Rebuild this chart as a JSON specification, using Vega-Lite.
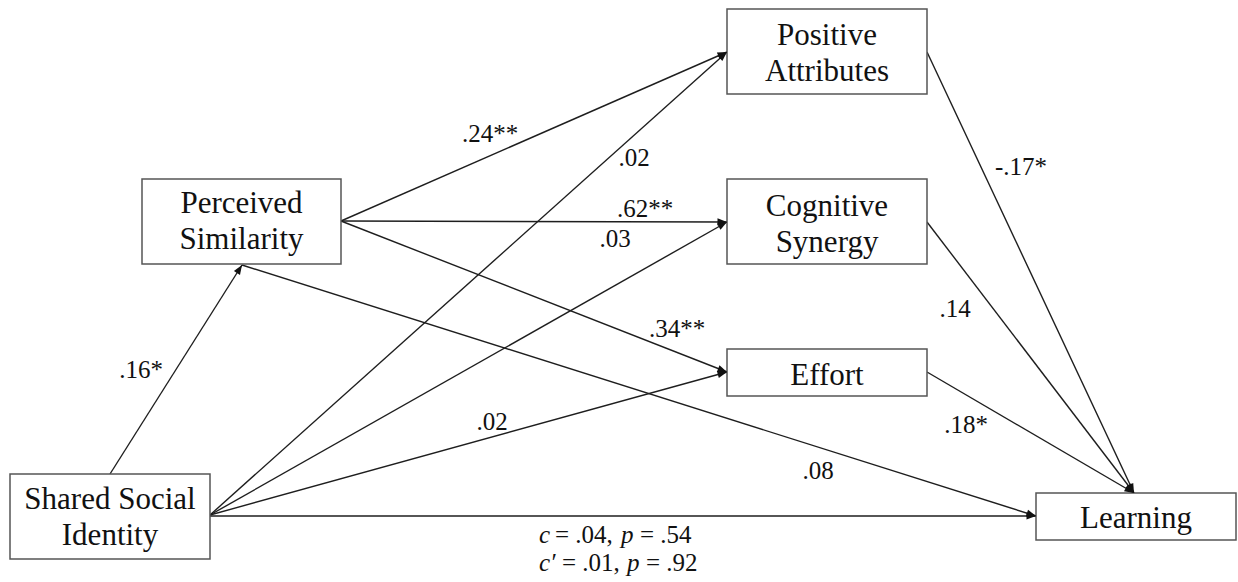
{
  "$schema": "https://vega.github.io/schema/vega-lite/v6.json",
  "width": 1238,
  "height": 582,
  "autosize": {"type": "fit", "contains": "padding"},
  "padding": 0,
  "background": "white",
  "config": {"view": {"stroke": null}},
  "datasets": {
    "edges": [
      {"from": "Shared Social Identity", "to": "Perceived Similarity", "x1": 110, "y1": 474, "x2": 242, "y2": 265},
      {"from": "Perceived Similarity", "to": "Positive Attributes", "x1": 341, "y1": 221, "x2": 727, "y2": 52},
      {"from": "Perceived Similarity", "to": "Cognitive Synergy", "x1": 341, "y1": 221, "x2": 727, "y2": 222},
      {"from": "Perceived Similarity", "to": "Effort", "x1": 341, "y1": 221, "x2": 727, "y2": 372},
      {"from": "Perceived Similarity", "to": "Learning", "x1": 242, "y1": 265, "x2": 1036, "y2": 516},
      {"from": "Shared Social Identity", "to": "Positive Attributes", "x1": 210, "y1": 515, "x2": 727, "y2": 52},
      {"from": "Shared Social Identity", "to": "Cognitive Synergy", "x1": 210, "y1": 515, "x2": 727, "y2": 222},
      {"from": "Shared Social Identity", "to": "Effort", "x1": 210, "y1": 515, "x2": 727, "y2": 372},
      {"from": "Shared Social Identity", "to": "Learning", "x1": 210, "y1": 516, "x2": 1036, "y2": 516},
      {"from": "Positive Attributes", "to": "Learning", "x1": 927, "y1": 52, "x2": 1134, "y2": 493},
      {"from": "Cognitive Synergy", "to": "Learning", "x1": 927, "y1": 222, "x2": 1134, "y2": 493},
      {"from": "Effort", "to": "Learning", "x1": 927, "y1": 372, "x2": 1134, "y2": 493}
    ],
    "boxes": [
      {"label": "Perceived\nSimilarity", "x1": 142, "x2": 341, "y1": 179, "y2": 264, "tx": 241.5, "ty": 213},
      {"label": "Positive\nAttributes", "x1": 727, "x2": 927, "y1": 9, "y2": 94, "tx": 827, "ty": 45},
      {"label": "Cognitive\nSynergy", "x1": 727, "x2": 927, "y1": 179, "y2": 264, "tx": 827, "ty": 216},
      {"label": "Effort", "x1": 727, "x2": 927, "y1": 349, "y2": 396, "tx": 827, "ty": 385},
      {"label": "Shared Social\nIdentity", "x1": 10, "x2": 210, "y1": 474, "y2": 559, "tx": 110, "ty": 509},
      {"label": "Learning", "x1": 1036, "x2": 1236, "y1": 493, "y2": 540, "tx": 1136, "ty": 528}
    ],
    "coefs": [
      {"text": ".16*", "x": 141, "y": 378},
      {"text": ".24**", "x": 490, "y": 142},
      {"text": ".02", "x": 634, "y": 166},
      {"text": ".62**", "x": 645, "y": 217},
      {"text": ".03", "x": 615, "y": 247},
      {"text": ".34**", "x": 677, "y": 337},
      {"text": ".02", "x": 492, "y": 430},
      {"text": ".08", "x": 818, "y": 479},
      {"text": "-.17*", "x": 1021, "y": 175},
      {"text": ".14", "x": 955, "y": 317},
      {"text": ".18*", "x": 966, "y": 433}
    ],
    "italicParts": [
      {"text": "c", "x": 539, "y": 543},
      {"text": "p", "x": 621, "y": 543},
      {"text": "c′", "x": 539, "y": 571},
      {"text": "p", "x": 627, "y": 571}
    ],
    "plainParts": [
      {"text": "= .04,", "x": 555, "y": 543},
      {"text": "= .54", "x": 640, "y": 543},
      {"text": "= .01,", "x": 562, "y": 571},
      {"text": "= .92", "x": 646, "y": 571}
    ]
  },
  "layer": [
    {
      "data": {"name": "edges"},
      "mark": {"type": "rule", "color": "#1e1e1e", "strokeWidth": 1.4},
      "encoding": {
        "x": {"field": "x1", "type": "quantitative", "scale": {"domain": [0, 1238], "nice": false, "zero": false}, "axis": null},
        "y": {"field": "y1", "type": "quantitative", "scale": {"domain": [0, 582], "nice": false, "zero": false, "reverse": true}, "axis": null},
        "x2": {"field": "x2"},
        "y2": {"field": "y2"}
      }
    },
    {
      "data": {"name": "boxes"},
      "mark": {"type": "rect", "fill": "white", "stroke": "#555555", "strokeWidth": 1.5},
      "encoding": {
        "x": {"field": "x1", "type": "quantitative"},
        "x2": {"field": "x2"},
        "y": {"field": "y1", "type": "quantitative"},
        "y2": {"field": "y2"}
      }
    },
    {
      "data": {"name": "edges"},
      "transform": [
        {"calculate": "atan2(datum.x2 - datum.x1, datum.y1 - datum.y2) * 180 / PI", "as": "angle"}
      ],
      "mark": {"type": "point", "shape": "M0,0L-0.38,1L0.38,1Z", "filled": true, "size": 360, "color": "#111111", "opacity": 1},
      "encoding": {
        "x": {"field": "x2", "type": "quantitative"},
        "y": {"field": "y2", "type": "quantitative"},
        "angle": {"field": "angle", "type": "quantitative", "scale": null}
      }
    },
    {
      "data": {"name": "boxes"},
      "mark": {"type": "text", "font": "Liberation Serif", "fontSize": 31, "align": "center", "baseline": "alphabetic", "lineBreak": "\n", "lineHeight": 36, "color": "#111111"},
      "encoding": {
        "x": {"field": "tx", "type": "quantitative"},
        "y": {"field": "ty", "type": "quantitative"},
        "text": {"field": "label"}
      }
    },
    {
      "data": {"name": "coefs"},
      "mark": {"type": "text", "font": "Liberation Serif", "fontSize": 25, "align": "center", "baseline": "alphabetic", "color": "#111111"},
      "encoding": {
        "x": {"field": "x", "type": "quantitative"},
        "y": {"field": "y", "type": "quantitative"},
        "text": {"field": "text"}
      }
    },
    {
      "data": {"name": "italicParts"},
      "mark": {"type": "text", "font": "Liberation Serif", "fontSize": 25, "fontStyle": "italic", "align": "left", "baseline": "alphabetic", "color": "#111111"},
      "encoding": {
        "x": {"field": "x", "type": "quantitative"},
        "y": {"field": "y", "type": "quantitative"},
        "text": {"field": "text"}
      }
    },
    {
      "data": {"name": "plainParts"},
      "mark": {"type": "text", "font": "Liberation Serif", "fontSize": 25, "align": "left", "baseline": "alphabetic", "color": "#111111"},
      "encoding": {
        "x": {"field": "x", "type": "quantitative"},
        "y": {"field": "y", "type": "quantitative"},
        "text": {"field": "text"}
      }
    }
  ]
}
